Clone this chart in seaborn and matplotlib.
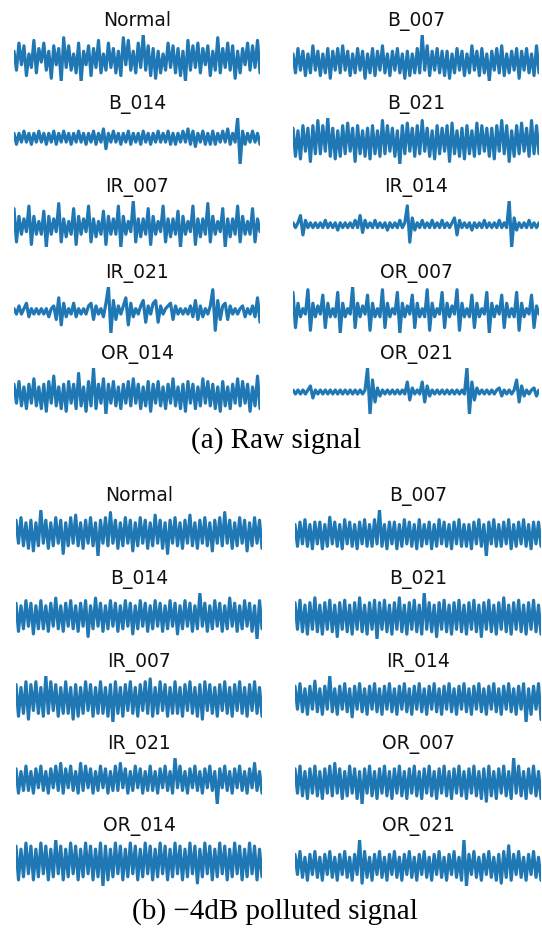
import numpy as np
import matplotlib
matplotlib.use("Agg")
import matplotlib.pyplot as plt
import seaborn as sns

labels = ["Normal", "B_007", "B_014", "B_021", "IR_007", "IR_014",
          "IR_021", "OR_007", "OR_014", "OR_021"]

normal_raw = [3,-4,6,-2,5,-6,2,-3,7,-5, 4,-1,6,-4,3,-7,5,-2,4,-8, 8,-3,5,-4,2,-5,6,-8,3,-2,
              5,-6,4,-3,7,-5,2,-4,6,-3, 4,-5,3,-6,8,-2,7,-4,3,-5, 6,-3,9,-4,5,-6,4,-7,3,-5,
              2,-4,6,-3,5,-5,4,-6,3,-8, 7,-4,5,-3,6,-5,4,-2,5,-6, 3,-4,8,-5,4,-3,6,-4,5,-7,
              3,-5,4,-2,6,-4,5,-3,7,-5]
b007_raw = [3,-4,5,-3,4,-5,3,-4,6,-3, 4,-5,3,-4,5,-6,4,-3,5,-4, 6,-3,4,-5,3,-4,5,-3,4,-6,
            3,-4,5,-5,4,-3,6,-4,3,-5, 4,-3,5,-4,3,-6,4,-5,3,-4, 5,-4,10,-3,6,-5,4,-3,5,-4,
            4,-5,4,-6,3,-4,5,-3,4,-5, 3,-4,6,-3,4,-5,5,-4,3,-7, 4,-3,5,-4,6,-5,3,-4,4,-3,
            5,-6,4,-3,5,-4,3,-5,6,-4]
b014_raw = [2,-3,2,-2,3,-2,2,-3,2,-2, 3,-2,2,-3,2,-2,3,-3,2,-2, 3,-2,2,-3,2,-2,3,-2,2,-3,
            2,-2,3,-3,2,-2,4,-5,2,-2, 3,-2,2,-3,2,-2,3,-3,2,-2, 2,-3,3,-2,2,-3,2,-2,3,-2,
            2,-2,3,-3,2,-3,2,-2,3,-2, 4,-3,3,-4,2,-2,3,-3,2,-3, 3,-3,2,-2,3,-2,4,-3,2,-2,
            9,-12,3,-3,2,-2,3,-2,2,-3]
b021_raw = [5,-6,4,-7,6,-4,5,-8,6,-5, 8,-5,6,-4,9,-6,5,-7,4,-6, 6,-5,7,-4,5,-8,6,-5,4,-6,
            5,-7,6,-5,4,-6,8,-5,6,-4, 5,-6,4,-9,6,-5,7,-4,5,-6, 6,-5,8,-4,5,-6,4,-7,6,-5,
            5,-4,6,-8,7,-5,4,-6,5,-7, 6,-5,4,-6,7,-5,6,-4,5,-6, 5,-7,6,-4,8,-5,6,-8,4,-6,
            6,-5,7,-4,5,-6,8,-5,6,-5]
ir007_raw = [7,-6,4,-3,3,-2, 8,-7,4,-3,2,-3, 6,-8,4,-3,3,-2, 9,-6,3,-4,2,-3, 7,-7,4,-3,3,-2,
             8,-6,3,-4,2,-3, 6,-7,4,-3,3,-3, 8,-8,4,-3,2,-2, 10,-6,3,-4,3,-3, 7,-7,4,-3,2,-2,
             8,-6,3,-4,3,-3, 6,-8,4,-3,2,-2, 8,-7,3,-4,3,-3, 9,-6,4,-3,2,-2, 7,-8,3,-4,3,-3,
             8,-6,4,-3,2,-3, 7,-6,3,-2]
ir014_raw = [1,-1,1,4,-4,2,-1,1,-1,1, -1,1,-1,2,-1,1,-1,1,-2,1, -1,1,-1,1,-1,2,-1,4,-3,2,
             -1,1,-1,2,-1,1,-1,1,-2,1, -1,1,-1,2,-1,1,8,-7,3,-2, 1,-1,2,-1,1,-1,2,-1,1,-1,
             2,-1,1,-1,1,3,-4,2,-1,1, -1,1,-2,1,-1,1,-1,2,-1,1, -1,1,-1,2,-1,1,-1,10,-9,3,
             -2,1,-1,1,-1,2,-1,1,-1,1]
ir021_raw = [1,-1,2,-1,1,3,-2,1,-1,1, -1,1,-1,1,-2,1,2,-3,5,-5, 3,-2,1,-1,3,-2,1,-1,1,-1,
             2,3,-3,2,-1,1,-2,3,9,-8, 4,-3,2,-1,2,5,-5,3,-2,1, -1,2,4,-4,2,-1,3,4,-4,2,
             -1,1,2,3,-3,2,-1,1,-1,1, -1,2,-2,4,-3,2,-2,1,-1,2, 8,-7,4,-3,2,3,-3,2,-1,1,
             -1,1,2,-2,1,-1,2,-2,5,-4]
or007_raw = [7,-6,3,-2,1,-1, 8,-7,3,-2,2,-1, 6,-6,3,-2,1,-2, 7,-8,3,-2,1,-1, 9,-6,3,-2,2,-1,
             6,-7,3,-2,1,-2, 8,-6,3,-2,1,-1, 7,-8,3,-2,2,-1, 6,-6,3,-2,1,-2, 8,-7,3,-2,1,-1,
             7,-6,3,-2,2,-1, 8,-7,3,-2,1,-2, 6,-6,3,-2,1,-1, 7,-8,3,-2,2,-1, 6,-6,3,-2,1,-2,
             7,-7,3,-2,1,-1, 6,-6,2,-1]
or014_raw = [4,-3,5,-4,3,-5,4,-3,6,-4, 3,-5,4,-6,5,-3,7,-4,3,-5, 4,-6,5,-3,4,-5,8,-4,3,-6,
             5,-4,10,-5,4,-3,6,-7,4,-3, 5,-4,3,-5,4,-3,5,-4,6,-3, 4,-5,3,-4,5,-6,4,-3,5,-4,
             3,-5,4,-3,6,-4,3,-5,4,-6, 5,-3,4,-5,3,-4,6,-3,5,-4, 4,-5,3,-6,5,-4,3,-5,4,-3,
             6,-4,5,-3,4,-6,3,-4,7,-5]
or021_raw = [1,-1,1,-1,1,-1,1,3,-3,1, -1,1,-1,1,-1,1,-1,1,-1,1, -1,1,-1,1,-1,1,-1,1,-1,1,
             12,-11,6,-5,2,-2,1,-1,1,-1, 1,-1,1,-1,1,-1,5,-4,2,-1, 1,-1,5,-5,3,-2,1,-1,1,-1,
             1,-1,1,-1,1,-1,1,-1,1,-1, 12,-11,5,-4,2,-1,1,-1,1,-1, 1,-1,1,2,-2,1,-1,1,-1,1,
             6,-5,3,-2,1,-1,1,2,-2,1]

normal_pol = [5,-4,6,-5,4,-6,5,-7,4,-5, 9,-4,5,-6,4,-5,6,-4,5,-8, 4,-5,6,-4,7,-5,4,-6,5,-4,
              6,-5,4,-9,5,-4,6,-5,8,-4, 5,-6,4,-5,6,-4,5,-7,4,-5, 6,-4,5,-6,4,-5,7,-4,5,-6,
              4,-8,5,-4,6,-5,4,-6,5,-4, 7,-5,4,-6,5,-4,6,-5,4,-7, 5,-4,6,-5,8,-4,5,-6,4,-5,
              6,-4,5,-7,4,-5,6,-4,5,-6]
b007_pol = [4,-5,5,-4,6,-5,4,-6,5,-4, 5,-6,4,-5,7,-4,5,-5,4,-6, 6,-4,5,-5,4,-6,5,-4,6,-5,
            4,-5,6,-4,10,-5,4,-6,5,-4, 5,-6,4,-5,6,-4,5,-5,4,-6, 6,-5,4,-4,5,-6,4,-5,6,-4,
            5,-5,4,-6,5,-4,6,-5,4,-5, 4,-6,5,-4,6,-5,4,-9,5,-4, 6,-5,4,-5,5,-4,6,-6,4,-5,
            5,-4,6,-5,4,-6,5,-4,5,-5]
b014_pol = [5,-6,4,-5,6,-4,5,-7,4,-5, 6,-5,4,-6,5,-4,7,-5,4,-6, 5,-4,6,-5,4,-6,5,-4,6,-8,
            4,-5,7,-4,5,-6,4,-5,6,-4, 5,-6,4,-5,6,-4,5,-7,4,-5, 6,-4,5,-6,4,-5,6,-4,5,-6,
            4,-5,6,-4,5,-7,4,-5,6,-4, 5,-6,4,-5,9,-4,5,-6,4,-5, 6,-4,5,-6,4,-5,7,-4,5,-6,
            4,-5,6,-4,5,-6,4,-9,6,-5]
b021_pol = [6,-5,7,-6,5,-7,6,-5,8,-6, 5,-7,6,-5,7,-6,5,-8,6,-5, 7,-6,5,-7,6,-5,8,-6,5,-7,
            6,-5,7,-9,6,-5,7,-6,5,-7, 6,-5,8,-6,5,-7,6,-5,7,-6, 5,-7,10,-5,6,-6,5,-8,6,-5,
            7,-6,5,-7,6,-5,7,-6,5,-7, 6,-5,7,-6,5,-8,6,-5,7,-6, 5,-7,6,-5,8,-6,5,-7,6,-5,
            7,-6,5,-7,6,-5,7,-6,5,-7]
ir007_pol = [5,-6,4,-5,6,-7,5,-4,6,-5, 4,-6,8,-5,6,-4,5,-6,4,-5, 6,-5,4,-7,5,-6,4,-5,6,-4,
             5,-6,4,-5,6,-5,4,-6,5,-8, 6,-5,4,-6,5,-4,6,-5,4,-6, 5,-4,6,-5,7,-6,4,-5,6,-4,
             5,-6,4,-5,6,-5,4,-6,5,-4, 6,-5,4,-6,5,-7,6,-4,5,-5, 4,-6,5,-4,6,-5,4,-6,5,-4,
             6,-5,4,-6,5,-4,6,-5,4,-6]
ir014_pol = [5,-4,6,-5,4,-6,5,-4,7,-5, 4,-6,5,-4,9,-5,4,-6,5,-4, 6,-5,4,-7,5,-4,6,-5,4,-6,
             5,-4,6,-5,4,-6,5,-4,6,-5, 4,-6,5,-4,6,-5,4,-6,5,-4, 6,-5,4,-6,5,-4,6,-5,4,-6,
             5,-4,6,-5,4,-6,5,-4,6,-5, 4,-6,5,-4,6,-5,4,-6,5,-4, 6,-5,4,-6,5,-4,6,-5,4,-6,
             5,-4,6,-9,4,-6,5,-4,6,-8]
ir021_pol = [4,-5,3,-4,5,-4,3,-5,4,-3, 5,-4,3,-5,4,-3,5,-4,6,-5, 4,-3,5,-4,3,-5,6,-4,5,-3,
             4,-5,3,-4,5,-3,4,-5,3,-4, 5,-4,6,-3,4,-5,3,-4,5,-3, 4,-5,3,-4,5,-4,3,-5,4,-3,
             5,-4,3,-5,8,-3,5,-4,3,-5, 4,-3,5,-4,3,-5,4,-3,5,-4, 3,-9,4,-3,5,-4,3,-5,4,-3,
             5,-4,3,-5,4,-3,6,-4,3,-5]
or007_pol = [5,-4,6,-5,4,-6,5,-4,6,-5, 4,-6,5,-4,6,-5,7,-4,5,-6, 4,-5,6,-4,5,-6,4,-8,5,-4,
             6,-5,4,-6,5,-4,6,-5,4,-6, 5,-4,6,-5,4,-6,5,-4,6,-5, 4,-6,5,-4,6,-5,4,-6,5,-4,
             6,-5,4,-6,5,-4,6,-5,4,-6, 5,-4,6,-5,4,-6,5,-7,6,-5, 4,-6,5,-4,6,-5,4,-6,9,-4,
             6,-5,4,-6,5,-4,6,-5,4,-6]
or014_pol = [5,-6,4,-5,6,-4,5,-6,4,-5, 6,-4,5,-6,4,-5,7,-4,5,-6, 4,-5,6,-4,5,-6,4,-5,6,-4,
             5,-6,4,-5,6,-8,5,-6,4,-5, 6,-4,5,-6,4,-5,6,-4,5,-6, 4,-5,6,-4,5,-6,4,-5,6,-4,
             5,-6,4,-5,6,-4,5,-6,4,-5, 6,-4,5,-7,4,-5,6,-4,5,-6, 4,-5,6,-4,5,-6,4,-5,6,-4,
             5,-6,4,-5,6,-4,5,-6,4,-5]
or021_pol = [4,-3,5,-4,3,-5,4,-3,5,-4, 3,-5,4,-3,5,-4,3,-5,4,-3, 5,-4,3,-5,4,-3,9,-6,5,-4,
             3,-5,4,-3,5,-4,3,-5,4,-3, 5,-4,3,-5,4,-3,5,-4,3,-5, 4,-3,5,-4,3,-5,4,-3,5,-4,
             3,-5,4,-3,5,-4,3,-5,9,-7, 4,-3,5,-4,3,-5,4,-3,5,-4, 3,-5,4,-6,5,-4,7,-5,4,-3,
             5,-4,3,-5,4,-3,5,-4,3,-5]

raw_signals = [normal_raw, b007_raw, b014_raw, b021_raw, ir007_raw, ir014_raw,
               ir021_raw, or007_raw, or014_raw, or021_raw]
pol_signals = [normal_pol, b007_pol, b014_pol, b021_pol, ir007_pol, ir014_pol,
               ir021_pol, or007_pol, or014_pol, or021_pol]

captions = ["(a) Raw signal", "(b) \u22124dB polluted signal"]

sns.set_style("white")
W, H = 542, 929
fig = plt.figure(figsize=(W / 100, H / 100), dpi=100)
color = "#1f77b4"

def px_axes(x0, y0, w, h):
    return fig.add_axes([x0 / W, 1 - (y0 + h) / H, w / W, h / H])

def draw_block(signals, tops, lefts, width):
    for i, (lab, sig) in enumerate(zip(labels, signals)):
        r, c = divmod(i, 2)
        ax = px_axes(lefts[c], tops[r], width, 46)
        sns.lineplot(x=np.arange(len(sig)), y=np.array(sig, dtype=float), ax=ax,
                     color=color, linewidth=2.3)
        ax.set_xlim(0, len(sig) - 1)
        lo, hi = min(sig), max(sig)
        ax.set_ylim(lo, hi)
        ax.set_axis_off()
        ax.set_title(lab, fontsize=13.5, pad=7, color="#111111")

draw_block(raw_signals, [36, 119, 202, 288, 369], [14, 293], 246)
draw_block(pol_signals, [511, 594, 677, 759, 841], [16, 295], 246)

fig.text(276 / W, 1 - 441 / H, captions[0], ha="center", va="center",
         family="Liberation Serif", fontsize=21, color="black")
fig.text(275 / W, 1 - 912 / H, captions[1], ha="center", va="center",
         family="Liberation Serif", fontsize=21, color="black")

fig.savefig("out.png", dpi=100)
